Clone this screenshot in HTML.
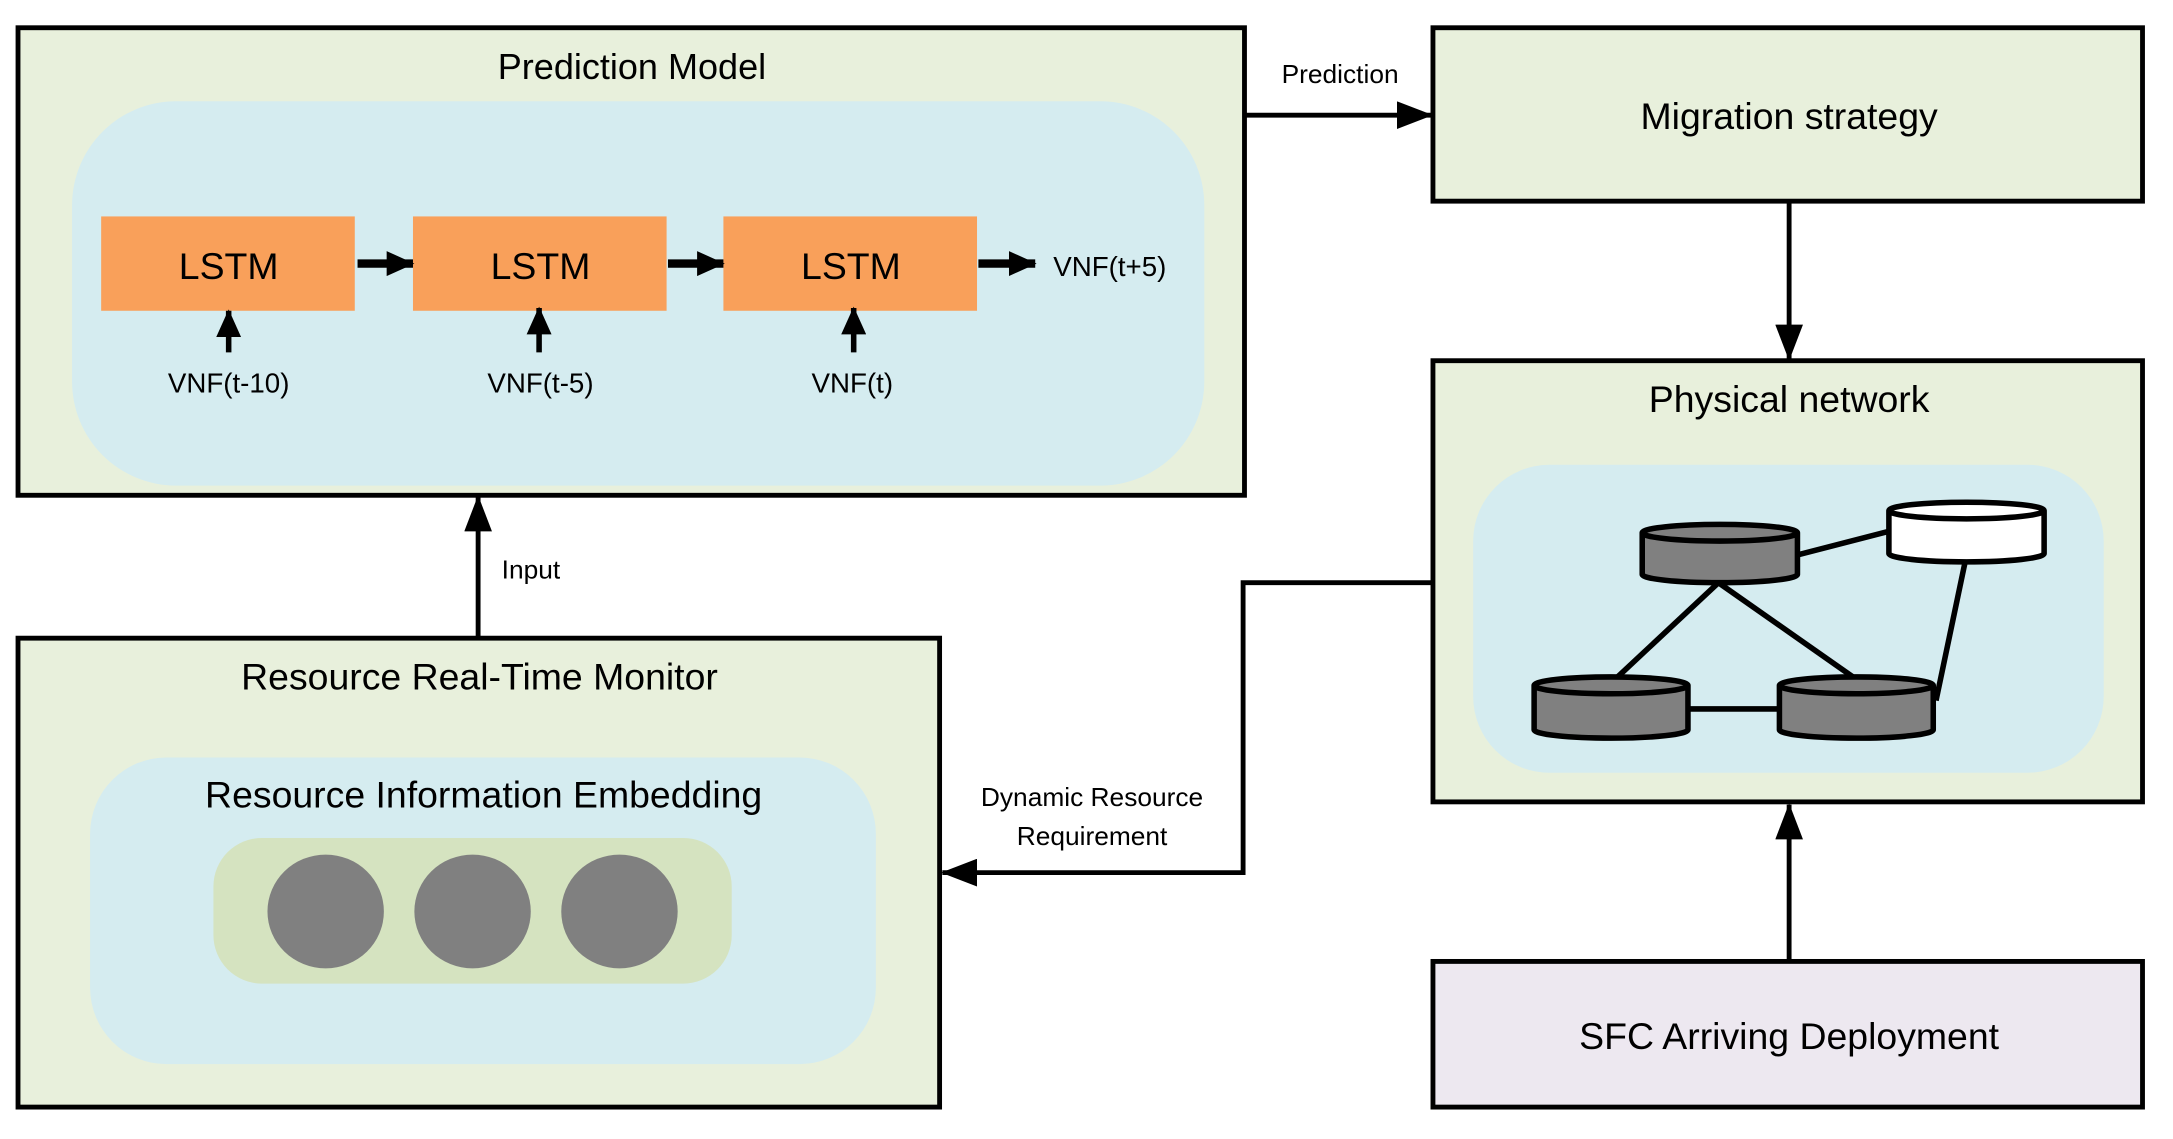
<!DOCTYPE html>
<html><head><meta charset="utf-8"><style>
html,body{margin:0;padding:0;background:#fff;}
svg{display:block;}
text{font-family:"Liberation Sans",sans-serif;fill:#000;}
</style></head><body>
<svg width="2173" height="1139" viewBox="0 0 1568 821" preserveAspectRatio="none" xmlns="http://www.w3.org/2000/svg">
<defs>
<marker id="ab" markerWidth="26" markerHeight="20" refX="25" refY="10" orient="auto" markerUnits="userSpaceOnUse" viewBox="0 0 26 20">
<path d="M0,0 L26,10 L0,20 z" fill="#000"/></marker>
<marker id="as" markerWidth="20" markerHeight="18" refX="19" refY="9" orient="auto" markerUnits="userSpaceOnUse" viewBox="0 0 20 18">
<path d="M0,0 L20,9 L0,18 z" fill="#000"/></marker>
</defs>

<rect x="13" y="20" width="885" height="337" fill="#e8f0dc" stroke="#000" stroke-width="3.5"/>
<text x="456" y="57" font-size="26" text-anchor="middle">Prediction Model</text>
<rect x="52" y="73" width="817" height="277" rx="75" fill="#d5ecf0"/>
<rect x="73" y="156" width="183" height="68" fill="#f9a05a"/>
<rect x="298" y="156" width="183" height="68" fill="#f9a05a"/>
<rect x="522" y="156" width="183" height="68" fill="#f9a05a"/>
<text x="165" y="201" font-size="27" text-anchor="middle">LSTM</text>
<text x="390" y="201" font-size="27" text-anchor="middle">LSTM</text>
<text x="614" y="201" font-size="27" text-anchor="middle">LSTM</text>
<line x1="258" y1="190" x2="298" y2="190" stroke="#000" stroke-width="6" marker-end="url(#as)"/>
<line x1="482" y1="190" x2="522" y2="190" stroke="#000" stroke-width="6" marker-end="url(#as)"/>
<line x1="706" y1="190" x2="747" y2="190" stroke="#000" stroke-width="6" marker-end="url(#as)"/>
<text x="760" y="199" font-size="20">VNF(t+5)</text>
<line x1="165" y1="254" x2="165" y2="224" stroke="#000" stroke-width="4" marker-end="url(#as)"/>
<line x1="389" y1="254" x2="389" y2="222" stroke="#000" stroke-width="4" marker-end="url(#as)"/>
<line x1="616" y1="254" x2="616" y2="222" stroke="#000" stroke-width="4" marker-end="url(#as)"/>
<text x="165" y="283" font-size="20" text-anchor="middle">VNF(t-10)</text>
<text x="390" y="283" font-size="20" text-anchor="middle">VNF(t-5)</text>
<text x="615" y="283" font-size="20" text-anchor="middle">VNF(t)</text>

<rect x="1034" y="20" width="512" height="125" fill="#e8f0dc" stroke="#000" stroke-width="3.5"/>
<text x="1291" y="93" font-size="27" text-anchor="middle">Migration strategy</text>
<line x1="898" y1="83" x2="1033" y2="83" stroke="#000" stroke-width="3.5" marker-end="url(#ab)"/>
<text x="967" y="60" font-size="19" text-anchor="middle">Prediction</text>
<line x1="1291" y1="145" x2="1291" y2="259" stroke="#000" stroke-width="3.5" marker-end="url(#ab)"/>

<rect x="1034" y="260" width="512" height="318" fill="#e8f0dc" stroke="#000" stroke-width="3.5"/>
<text x="1291" y="297" font-size="27" text-anchor="middle">Physical network</text>
<rect x="1063" y="335" width="455" height="222" rx="55" fill="#d5ecf0"/>
<g stroke="#000" stroke-width="4">
<line x1="1297" y1="400" x2="1363" y2="383"/>
<line x1="1240" y1="420" x2="1165" y2="490"/>
<line x1="1240" y1="420" x2="1340" y2="490"/>
<line x1="1218" y1="511" x2="1284" y2="511"/>
<line x1="1418" y1="405" x2="1397" y2="505"/>
</g>
<g stroke="#000" stroke-width="4">
<path d="M1185,384 v30 a56,6 0 0 0 112,0 v-30 a56,6 0 0 0 -112,0 a56,6 0 0 0 112,0" fill="#808080"/>
<path d="M1363,368 v31 a56,6 0 0 0 112,0 v-31 a56,6 0 0 0 -112,0 a56,6 0 0 0 112,0" fill="#fff"/>
<path d="M1107,494 v32 a55,6 0 0 0 111,0 v-32 a55,6 0 0 0 -111,0 a55,6 0 0 0 111,0" fill="#808080"/>
<path d="M1284,494 v32 a55,6 0 0 0 111,0 v-32 a55,6 0 0 0 -111,0 a55,6 0 0 0 111,0" fill="#808080"/>
</g>

<polyline points="1034,420 897,420 897,629 680,629" fill="none" stroke="#000" stroke-width="3.5" marker-end="url(#ab)"/>
<text x="788" y="581" font-size="19" text-anchor="middle">Dynamic Resource</text>
<text x="788" y="609" font-size="19" text-anchor="middle">Requirement</text>

<rect x="1034" y="693" width="512" height="105" fill="#ede8f0" stroke="#000" stroke-width="3.5"/>
<text x="1291" y="756" font-size="27" text-anchor="middle">SFC Arriving Deployment</text>
<line x1="1291" y1="693" x2="1291" y2="580" stroke="#000" stroke-width="3.5" marker-end="url(#ab)"/>

<rect x="13" y="460" width="665" height="338" fill="#e8f0dc" stroke="#000" stroke-width="3.5"/>
<text x="346" y="497" font-size="27" text-anchor="middle">Resource Real-Time Monitor</text>
<rect x="65" y="546" width="567" height="221" rx="55" fill="#d5ecf0"/>
<text x="349" y="582" font-size="27" text-anchor="middle">Resource Information Embedding</text>
<rect x="154" y="604" width="374" height="105" rx="35" fill="#d5e3c0"/>
<ellipse cx="235" cy="657" rx="42" ry="41" fill="#808080"/>
<ellipse cx="341" cy="657" rx="42" ry="41" fill="#808080"/>
<ellipse cx="447" cy="657" rx="42" ry="41" fill="#808080"/>
<line x1="345" y1="460" x2="345" y2="358" stroke="#000" stroke-width="3.5" marker-end="url(#ab)"/>
<text x="362" y="417" font-size="19">Input</text>
</svg>
</body></html>
